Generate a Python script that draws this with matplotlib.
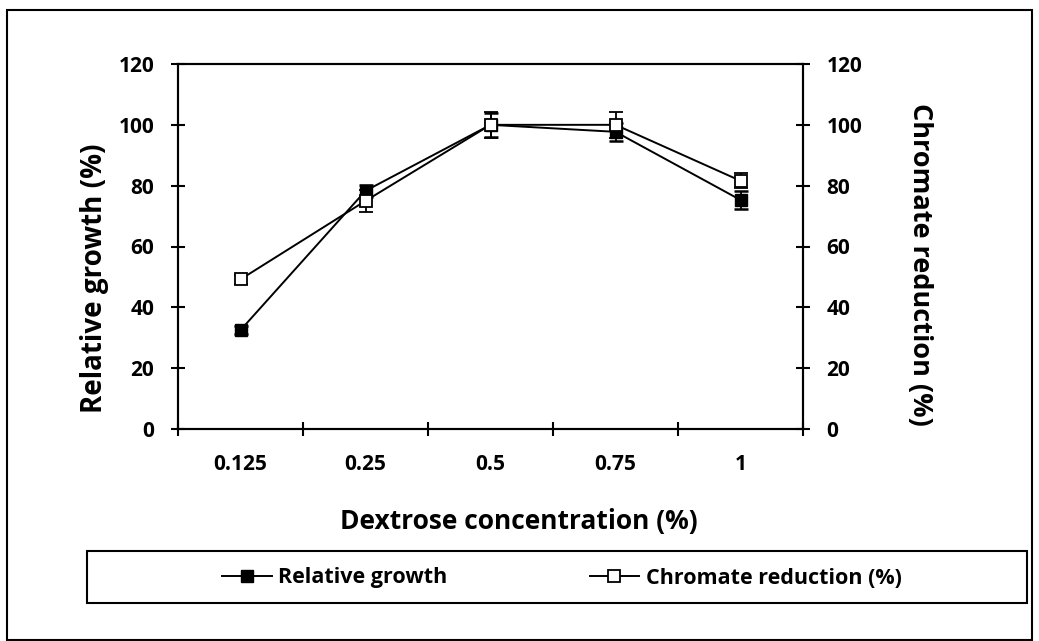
import matplotlib
matplotlib.use('Agg')

import matplotlib.pyplot as plt
from matplotlib.patches import Rectangle
from matplotlib.lines import Line2D
import numpy as np

plt.rcParams['font.family'] = ['Open Sans', 'DejaVu Sans']
plt.rcParams['font.weight'] = 'bold'

concentrations = ["0.125", "0.25", "0.5", "0.75", "1"]
growth = [32.5, 78.3, 100, 97.7, 75.3]
growth_err = [1.2, 2.0, 4.0, 3.0, 3.0]
chromate = [49.2, 75.0, 100, 100, 81.6]
chromate_err = [1.5, 3.6, 4.2, 4.3, 2.5]

W, H = 1039, 641
x = np.arange(len(concentrations))

fig = plt.figure(figsize=(W / 100, H / 100), dpi=100)
ax = fig.add_axes([178 / W, 1 - 429 / H, 625 / W, 365 / H])
ax2 = ax.twinx()

ax.errorbar(x, growth, yerr=growth_err, color='black', lw=1.4,
            marker='s', markersize=8.5, markerfacecolor='black',
            markeredgecolor='black', capsize=5, capthick=1.8, elinewidth=1.3)
ax2.errorbar(x, chromate, yerr=chromate_err, color='black', lw=1.4,
             marker='s', markersize=8.5, markerfacecolor='white',
             markeredgecolor='black', markeredgewidth=1.3,
             capsize=5, capthick=1.8, elinewidth=1.3)

for a in (ax, ax2):
    a.set_ylim(0, 120)
    a.set_yticks(range(0, 121, 20))
    a.set_xlim(-0.5, len(concentrations) - 0.5)
    for s in a.spines.values():
        s.set_linewidth(1.5)
        s.set_color('black')

ax.set_xticks(x)
ax.set_xticklabels(concentrations)
ax.set_xticks(np.arange(-0.5, len(concentrations)), minor=True)
ax.tick_params(axis='x', which='major', length=0, pad=18, labelsize=15)
ax.tick_params(axis='x', which='minor', direction='inout', length=10, width=1.5)
ax.tick_params(axis='y', direction='inout', length=10, width=1.5, labelsize=15, pad=12)
ax2.tick_params(axis='y', direction='inout', length=10, width=1.5, labelsize=15, pad=12)

# axis titles placed like the Excel original
fig.text(519 / W, 1 - 521 / H, 'Dextrose concentration (%)', fontsize=19,
         fontweight='bold', ha='center', va='center')
fig.text(95 / W, 1 - 278 / H, 'Relative growth (%)', fontsize=20,
         fontweight='bold', ha='center', va='center', rotation=90)
fig.text(920 / W, 1 - 264 / H, 'Chromate reduction (%)', fontsize=19.5,
         fontweight='bold', ha='center', va='center', rotation=-90)

# outer chart border and legend box
fig.patches.append(Rectangle((7 / W, 1 / H), 1025 / W, 630 / H,
                             transform=fig.transFigure, fill=False,
                             edgecolor='black', lw=1.5))
fig.patches.append(Rectangle((87 / W, 1 - 603 / H), 940 / W, 52 / H,
                             transform=fig.transFigure, fill=False,
                             edgecolor='black', lw=1.5))

handles = [
    Line2D([], [], color='black', lw=1.4, marker='s', markersize=8.5,
           markerfacecolor='black', markeredgecolor='black'),
    Line2D([], [], color='black', lw=1.4, marker='s', markersize=8.5,
           markerfacecolor='white', markeredgecolor='black', markeredgewidth=1.3),
]
labels = ['Relative growth', 'Chromate reduction (%)']
fig.legend(handles, labels, loc='center', ncol=2, frameon=False,
           bbox_to_anchor=(562 / W, 1 - 578 / H),
           fontsize=15.5, handlelength=2.3, handletextpad=0.3,
           columnspacing=6.6)

fig.savefig('out.png', dpi=100)
